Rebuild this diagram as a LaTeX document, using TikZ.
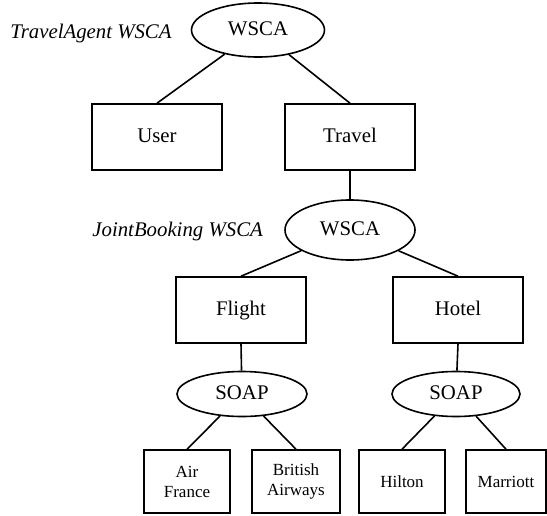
\documentclass[tikz,border=0pt]{standalone}
\usepackage{fontspec}
\setmainfont{Liberation Serif}
\usetikzlibrary{shapes.geometric}
\begin{document}
\begin{tikzpicture}[x=0.5pt,y=-0.5pt,
  lbl/.style={font=\fontsize{10.4}{12}\selectfont\itshape, inner sep=0pt},
  oval/.style={draw, ellipse, line width=0.8pt, inner sep=0pt, text height=7pt, text depth=2pt, font=\fontsize{10.4}{12}\selectfont},
  box/.style={draw, rectangle, line width=0.8pt, inner sep=0pt, minimum width=65pt, minimum height=33pt, text height=7pt, text depth=2pt, font=\fontsize{10.4}{12}\selectfont},
  sbox/.style={draw, rectangle, line width=0.8pt, inner sep=0pt, minimum height=31.5pt, align=center, font=\fontsize{8.5}{10}\selectfont},
  conn/.style={line width=0.8pt}]
\useasboundingbox (0,0) rectangle (547,515);
% labels
\node[lbl, anchor=base west] (ta) at (10,38) {TravelAgent WSCA};
\node[lbl, anchor=base west] (jb) at (92,236) {JointBooking WSCA};
% nodes
\node[oval, minimum width=66.5pt, minimum height=27pt] (w1) at (258,30) {WSCA};
\node[box] (user) at (157,137) {User};
\node[box] (travel) at (350,137) {Travel};
\node[oval, minimum width=65pt, minimum height=30pt] (w2) at (350,230) {WSCA};
\node[box] (flight) at (241,310) {Flight};
\node[box] (hotel) at (458,310) {Hotel};
\node[oval, minimum width=65pt, minimum height=22.5pt] (s1) at (242,394) {SOAP};
\node[oval, minimum width=64pt, minimum height=22.5pt] (s2) at (456,394) {SOAP};
\node[sbox, minimum width=43pt] (af) at (187,481.5) {Air\\France};
\node[sbox, minimum width=44pt] (ba) at (296,481.5) {British\\Airways};
\node[sbox, minimum width=43pt] (hi) at (402,481.5) {Hilton};
\node[sbox, minimum width=40pt] (ma) at (506,481.5) {Marriott};
% connectors
\draw[conn] (w1) -- (user.north);
\draw[conn] (w1) -- (travel.north);
\draw[conn] (travel.south) -- (w2);
\draw[conn] (w2) -- (flight.north);
\draw[conn] (w2) -- (hotel.north);
\draw[conn] (flight.south) -- (s1);
\draw[conn] (hotel.south) -- (s2);
\draw[conn] (s1) -- (af.north);
\draw[conn] (s1) -- (ba.north);
\draw[conn] (s2) -- (hi.north);
\draw[conn] (s2) -- (ma.north);
\end{tikzpicture}
\end{document}
